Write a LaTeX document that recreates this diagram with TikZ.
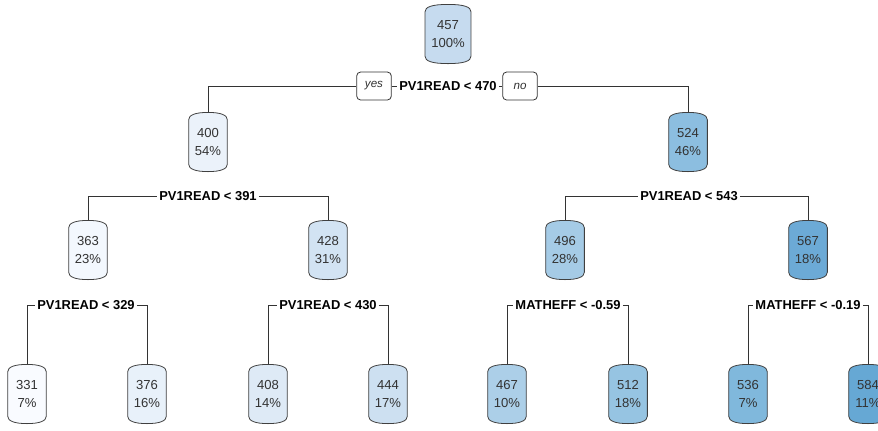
\documentclass[tikz,border=0pt]{standalone}
\usepackage{fontspec}
\setmainfont{Liberation Sans}
\usetikzlibrary{backgrounds}
\definecolor{c457}{RGB}{198,219,239}
\definecolor{c400}{RGB}{235,242,250}
\definecolor{c524}{RGB}{140,190,224}
\definecolor{c363}{RGB}{243,248,254}
\definecolor{c428}{RGB}{210,227,243}
\definecolor{c496}{RGB}{165,203,230}
\definecolor{c567}{RGB}{108,170,214}
\definecolor{c331}{RGB}{249,251,255}
\definecolor{c376}{RGB}{232,241,250}
\definecolor{c408}{RGB}{222,234,246}
\definecolor{c444}{RGB}{205,224,241}
\definecolor{c467}{RGB}{172,207,232}
\definecolor{c512}{RGB}{150,196,226}
\definecolor{c536}{RGB}{128,184,220}
\definecolor{c584}{RGB}{102,168,212}
\tikzset{
	link/.style={draw=black!80, line width=0.6pt},
	tnode/.style={% leaf-like boxes with bulged top and bottom
		minimum width=28.5pt,
		minimum height=44pt,
		inner xsep=4.5pt,
		inner ysep=0pt,
		align=center,
		text=black!80,
		font=\fontsize{9.8}{13.5}\selectfont,
		append after command={\pgfextra{\let\tbn\tikzlastnode
			\begin{pgfonlayer}{background}
			\draw[draw=black!75, line width=0.6pt, fill=#1]
				([yshift=-5.5pt]\tbn.north west) -- ([yshift=5.5pt]\tbn.south west)
				.. controls ([yshift=2pt]\tbn.south west) and ([xshift=5pt]\tbn.south west) .. (\tbn.south)
				.. controls ([xshift=-5pt]\tbn.south east) and ([yshift=2pt]\tbn.south east) .. ([yshift=5.5pt]\tbn.south east)
				-- ([yshift=-5.5pt]\tbn.north east)
				.. controls ([yshift=-2pt]\tbn.north east) and ([xshift=-5pt]\tbn.north east) .. (\tbn.north)
				.. controls ([xshift=5pt]\tbn.north west) and ([yshift=-2pt]\tbn.north west) .. cycle;
			\end{pgfonlayer}}}
	},
	split/.style={
		inner sep=1.5pt,
		font=\fontsize{9.7}{11}\selectfont\bfseries
	},
	yesno/.style={
		draw=black!80, line width=0.6pt,
		rounded corners=3pt,
		fill=white,
		minimum width=26pt,
		minimum height=21pt,
		inner sep=0pt,
		font=\fontsize{8.7}{10}\selectfont\itshape,
		text=black!80
	}
}
\begin{document}
\begin{tikzpicture}[x=0.75pt, y=-0.75pt]
	\useasboundingbox (0,0) rectangle (878,430);
	% nodes
	\node [tnode=c457] (n457) at (448,34) {457\\100\%};
	\node [tnode=c400] (n400) at (208,142) {400\\54\%};
	\node [tnode=c524] (n524) at (688,142) {524\\46\%};
	\node [tnode=c363] (n363) at (88,250) {363\\23\%};
	\node [tnode=c428] (n428) at (328,250) {428\\31\%};
	\node [tnode=c496] (n496) at (565,250) {496\\28\%};
	\node [tnode=c567] (n567) at (808,250) {567\\18\%};
	\node [tnode=c331] (n331) at (27,394) {331\\7\%};
	\node [tnode=c376] (n376) at (147,394) {376\\16\%};
	\node [tnode=c408] (n408) at (268,394) {408\\14\%};
	\node [tnode=c444] (n444) at (388,394) {444\\17\%};
	\node [tnode=c467] (n467) at (507,394) {467\\10\%};
	\node [tnode=c512] (n512) at (628,394) {512\\18\%};
	\node [tnode=c536] (n536) at (748,394) {536\\7\%};
	\node [tnode=c584] (n584) at (868,394) {584\\11\%};
	% split labels
	\node [split] (s1) at (448,86) {PV1READ < 470};
	\node [yesno] (yes) at (374,86) {yes};
	\node [yesno] (no) at (520,86) {no};
	\node [split] (s2a) at (208,196) {PV1READ < 391};
	\node [split] (s2b) at (689,196) {PV1READ < 543};
	\node [split] (s3a) at (86,305) {PV1READ < 329};
	\node [split] (s3b) at (328,305) {PV1READ < 430};
	\node [split] (s3c) at (568,305) {MATHEFF < -0.59};
	\node [split] (s3d) at (808,305) {MATHEFF < -0.19};
	% connectors
	\draw [link] (n400.north) |- (yes.west);
	\draw [link] (yes.east) -- (s1.west);
	\draw [link] (s1.east) -- (no.west);
	\draw [link] (no.east) -| (n524.north);
	\draw [link] (n363.north) |- (s2a.west);
	\draw [link] (s2a.east) -| (n428.north);
	\draw [link] (n496.north) |- (s2b.west);
	\draw [link] (s2b.east) -| (n567.north);
	\draw [link] (n331.north) |- (s3a.west);
	\draw [link] (s3a.east) -| (n376.north);
	\draw [link] (n408.north) |- (s3b.west);
	\draw [link] (s3b.east) -| (n444.north);
	\draw [link] (n467.north) |- (s3c.west);
	\draw [link] (s3c.east) -| (n512.north);
	\draw [link] (n536.north) |- (s3d.west);
	\draw [link] (s3d.east) -| (n584.north);
\end{tikzpicture}
\end{document}
